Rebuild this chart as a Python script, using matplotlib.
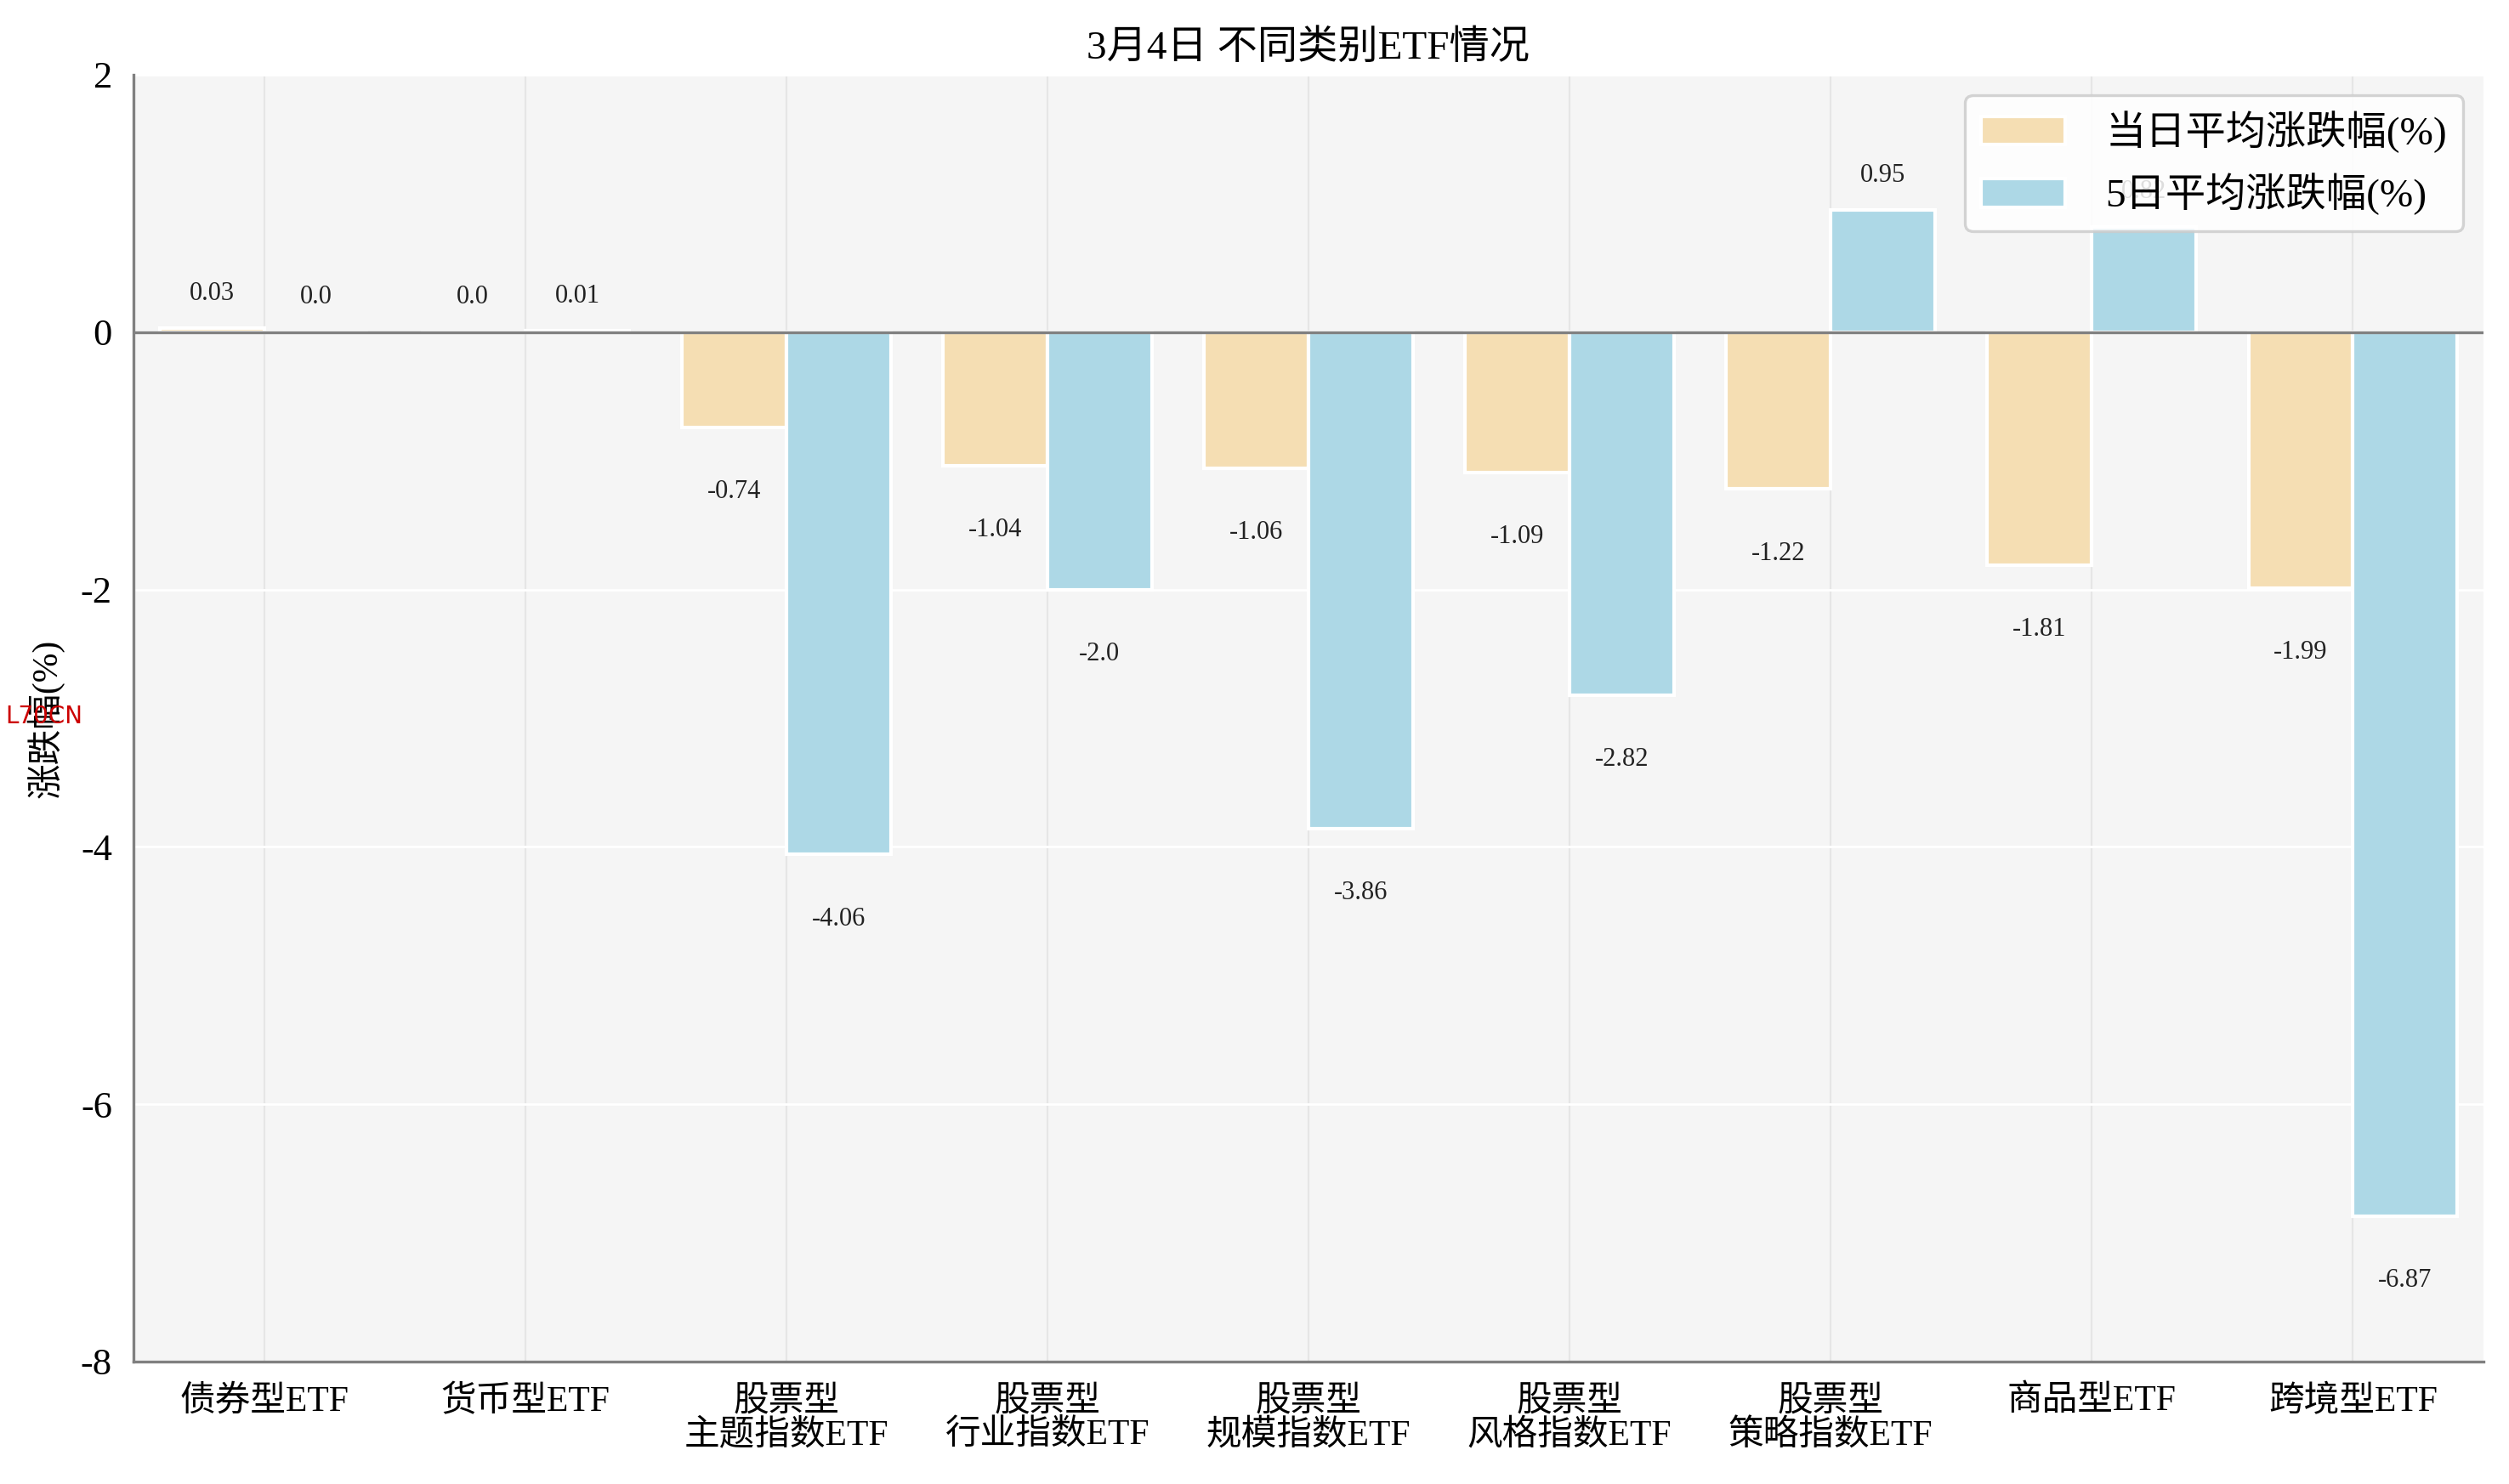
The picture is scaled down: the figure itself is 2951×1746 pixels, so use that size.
import numpy as np
import matplotlib.pyplot as plt

plt.rcParams['font.family'] = ['Liberation Serif', 'Noto Sans CJK SC', 'DejaVu Sans']
plt.rcParams['axes.unicode_minus'] = False

categories = ['债券型ETF', '货币型ETF', '股票型\n主题指数ETF', '股票型\n行业指数ETF',
              '股票型\n规模指数ETF', '股票型\n风格指数ETF', '股票型\n策略指数ETF',
              '商品型ETF', '跨境型ETF']
day_chg = [0.03, 0.0, -0.74, -1.04, -1.06, -1.09, -1.22, -1.81, -1.99]
week_chg = [0.0, 0.01, -4.06, -2.0, -3.86, -2.82, 0.95, 0.82, -6.87]
series_names = ['当日平均涨跌幅(%)', '5日平均涨跌幅(%)']

x = np.arange(len(categories))
w = 0.4

fig = plt.figure(figsize=(14.755, 8.73), dpi=200)
ax = fig.add_axes([0.0532, 0.0825, 0.9366, 0.8671])
ax.set_facecolor('#f5f5f5')

ax.bar(x - w / 2, day_chg, w, color='#f5deb3', edgecolor='white', linewidth=1.5,
       label=series_names[0], zorder=2)
ax.bar(x + w / 2, week_chg, w, color='#add8e6', edgecolor='white', linewidth=1.5,
       label=series_names[1], zorder=2)

# value labels above / below each bar
for xs, vals in [(x - w / 2, day_chg), (x + w / 2, week_chg)]:
    for xi, v in zip(xs, vals):
        if v >= 0:
            ax.text(xi, v + 0.27, str(v), ha='center', va='center', fontsize=11, color='#222222', zorder=1)
        else:
            ax.text(xi, v - 0.5, str(v), ha='center', va='center', fontsize=11, color='#222222', zorder=1)

ax.axhline(0, color='#808080', linewidth=1.2, zorder=3)

ax.set_xlim(-0.5, len(categories) - 0.5)
ax.set_ylim(-8, 2)
ax.set_yticks([-8, -6, -4, -2, 0, 2])
ax.set_yticklabels(['-8', '-6', '-4', '-2', '0', '2'])
ax.set_xticks(x)
ax.set_xticklabels(categories, fontsize=15, linespacing=1.05)
ax.tick_params(axis='x', length=0, pad=10)
ax.tick_params(axis='y', length=0, pad=9, labelsize=16)

ax.grid(axis='y', color='white', linewidth=1.0, zorder=0)
ax.grid(axis='x', color='#e6e6e6', linewidth=0.8, zorder=0)
ax.set_axisbelow(True)

for s in ['top', 'right']:
    ax.spines[s].set_visible(False)
for s in ['left', 'bottom']:
    ax.spines[s].set_color('#808080')
    ax.spines[s].set_linewidth(1.2)

ax.set_ylabel('涨跌幅(%)', fontsize=15, labelpad=7)
ax.set_title('3月4日 不同类别ETF情况', fontsize=17, pad=7)

leg = ax.legend(loc='upper right', fontsize=17, handlelength=2.1, handletextpad=1.0,
                borderaxespad=0.5, framealpha=0.85, edgecolor='#cccccc', fancybox=True)
leg.get_frame().set_linewidth(1.2)

fig.text(0.002, 1 - 843 / 1746, 'L70CN', color='#cc0000', fontsize=10,
         family='DejaVu Sans', va='center', ha='left')

fig.savefig('out.png', dpi=200)
